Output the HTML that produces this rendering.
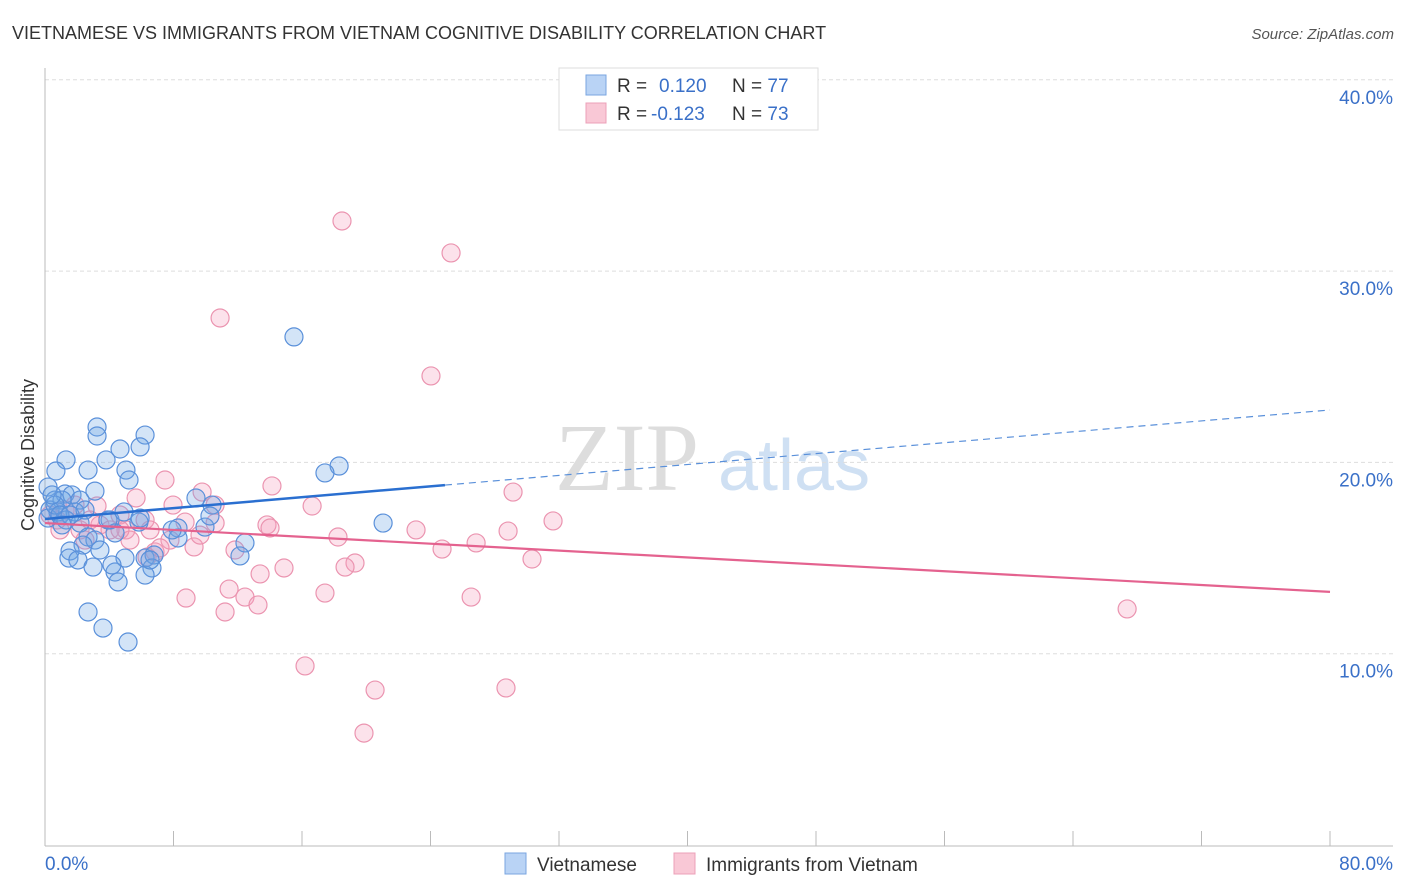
<!DOCTYPE html>
<html><head><meta charset="utf-8"><style>
body{margin:0;background:#fff;font-family:"Liberation Sans",sans-serif;}
svg{display:block}
</style></head><body>
<svg id="chart" width="1406" height="892">
<text x="12" y="39" font-size="18" fill="#333">VIETNAMESE VS IMMIGRANTS FROM VIETNAM COGNITIVE DISABILITY CORRELATION CHART</text>
<text x="1394" y="39" font-size="15" fill="#555" font-style="italic" text-anchor="end">Source: ZipAtlas.com</text>
<g>
<text x="555" y="490" font-size="96" fill="#ddd" font-family="Liberation Serif,serif">ZIP</text>
<text x="718" y="490" font-size="72" fill="#cfe0f3">atlas</text>
</g>
<g id="grid"></g>
<g id="axes"></g>
<text transform="translate(34,455) rotate(-90)" font-size="18" fill="#333" text-anchor="middle">Cognitive Disability</text>
<g id="pts-pink"></g>
<g id="pts-blue"></g>
<g id="trends"></g>
<g>
<rect x="559" y="68" width="259" height="62" fill="#fff" stroke="#ddd"/>
<rect x="586" y="75" width="20" height="20" fill="#b9d3f5" stroke="#7aa6e0"/>
<rect x="586" y="103" width="20" height="20" fill="#f9c8d6" stroke="#eca0b8"/>
<text x="617" y="92" font-size="19" fill="#333">R = <tspan fill="#3a70c8" x="659">0.120</tspan><tspan x="732" fill="#333">N = </tspan><tspan fill="#3a70c8">77</tspan></text>
<text x="617" y="120" font-size="19" fill="#333">R = <tspan fill="#3a70c8" x="651">-0.123</tspan><tspan x="732" fill="#333">N = </tspan><tspan fill="#3a70c8">73</tspan></text>
</g>
<g>
<rect x="505" y="853" width="21" height="21" fill="#b9d3f5" stroke="#7aa6e0"/>
<text x="537" y="871" font-size="19" fill="#333">Vietnamese</text>
<rect x="674" y="853" width="21" height="21" fill="#f9c8d6" stroke="#eca0b8"/>
<text x="706" y="871" font-size="19" fill="#333">Immigrants from Vietnam</text>
</g>
</svg>
<script>
const yTicks=[10,20,30,40];
const yTickLabels=["10.0%","20.0%","30.0%","40.0%"];
const xTicks=[0,8,16,24,32,40,48,56,64,72,80];
const blueX=[3.24,3.24,6.23,5.92,4.67,1.31,3.80,0.68,2.68,5.04,5.23,18.31,17.43,15.50,0.19,3.11,1.25,1.68,0.62,1.06,2.18,0.31,0.81,1.87,0.19,1.31,2.18,4.05,4.92,5.85,8.28,9.96,10.40,9.40,21.05,2.68,3.11,4.36,2.37,3.42,1.56,1.49,4.98,2.05,6.23,2.99,6.79,6.66,4.36,4.55,6.23,12.45,12.14,2.68,3.61,5.17,8.28,7.91,0.62,0.44,0.93,1.56,5.92,3.92,4.17,6.54,2.49,1.06,10.27];
const blueY=[21.85,21.38,21.43,20.81,20.70,20.13,20.13,19.55,19.60,19.60,19.08,19.81,19.45,26.56,18.71,18.50,18.35,18.30,18.03,18.03,18.03,17.51,17.41,17.41,17.09,16.99,16.83,16.99,17.41,16.88,16.57,16.62,17.77,18.14,16.83,16.10,15.94,16.31,15.68,15.42,15.37,15.00,15.00,14.90,15.00,14.53,15.16,14.48,14.27,13.75,14.11,15.79,15.11,12.18,11.34,10.61,16.05,16.47,17.77,18.30,17.25,17.25,17.09,16.99,14.64,14.90,17.51,16.73,17.20];
const pinkX=[18.49,25.28,10.90,24.03,7.47,14.13,9.78,7.97,16.63,5.67,3.24,0.75,0.93,2.18,3.42,4.67,5.04,6.23,6.54,7.78,8.72,10.59,13.82,14.01,18.24,23.10,24.72,26.84,28.83,31.63,29.14,30.32,19.30,18.68,14.88,13.39,11.46,8.78,12.45,11.21,13.26,17.43,26.53,16.19,20.55,28.70,19.86,67.37,11.83,9.28,6.85,6.35,7.16,9.65,2.80,4.05,1.25,1.87,0.31,2.49,5.29,4.67,10.59];
const pinkY=[32.62,30.95,27.55,24.52,19.08,18.77,18.45,17.77,17.72,18.14,17.72,16.99,16.47,16.47,16.73,17.25,16.47,16.99,16.47,15.94,16.88,16.83,16.73,16.57,16.10,16.47,15.47,15.79,16.41,16.94,18.45,14.95,14.74,14.53,14.48,14.17,13.38,12.91,12.96,12.18,12.55,13.17,12.96,9.36,8.10,8.21,5.85,12.34,15.42,15.58,15.32,15.05,15.53,16.20,16.99,16.47,17.51,17.77,17.25,15.94,15.94,16.47,17.77];
const blueTrend=[17.04,22.74]; // y at x=0, x=80
const blueSolidEnd=24.9;
const pinkTrend=[16.83,13.23];

const NS="http://www.w3.org/2000/svg";
const X=v=>45+v*(1285/80);
const Y=v=>845-v*19.13;
function mk(tag,attrs,parent){const e=document.createElementNS(NS,tag);for(const k in attrs)e.setAttribute(k,attrs[k]);parent.appendChild(e);return e;}
const grid=document.getElementById('grid'),axes=document.getElementById('axes');
yTicks.forEach((t,i)=>{
 const l=mk('line',{x1:45,x2:1393,y1:Y(t),y2:Y(t),stroke:'#ddd','stroke-dasharray':'4,3'},grid);
 
 
 const tx=mk('text',{x:1393,y:Y(t)+24,'font-size':19,fill:'#3a70c8','text-anchor':'end'},axes);
 tx.textContent=yTickLabels[i];
 
 
});
mk('line',{x1:45,x2:45,y1:68,y2:846,stroke:'#bbb'},axes);
mk('line',{x1:45,x2:1393,y1:846,y2:846,stroke:'#bbb'},axes);
xTicks.forEach(t=>{
 const l=mk('line',{x1:X(t),x2:X(t),y1:831,y2:846,stroke:'#bbb'},axes);
 
 
});
const x0=mk('text',{x:45,y:870,'font-size':19,fill:'#3a70c8'},axes);x0.textContent="0.0%";


const x1=mk('text',{x:1393,y:870,'font-size':19,fill:'#3a70c8','text-anchor':'end'},axes);x1.textContent="80.0%";


function pts(xs,ys,g,fill,stroke,name){xs.forEach((x,i)=>{
 const c=mk('circle',{cx:X(x),cy:Y(ys[i]),r:9,fill:fill,stroke:stroke,'stroke-width':1.2},g);
 
 
});}
pts(pinkX,pinkY,document.getElementById('pts-pink'),'rgba(244,160,188,0.3)','#eb94b0','immigrants-point');
pts(blueX,blueY,document.getElementById('pts-blue'),'rgba(110,165,230,0.3)','#5a90da','vietnamese-point');
const tr=document.getElementById('trends');
const by=x=>blueTrend[0]+(blueTrend[1]-blueTrend[0])*x/80;
let a=mk('line',{x1:X(0),y1:Y(by(0)),x2:X(blueSolidEnd),y2:Y(by(blueSolidEnd)),stroke:'#2a6fd0','stroke-width':2.5},tr);


a=mk('line',{x1:X(blueSolidEnd),y1:Y(by(blueSolidEnd)),x2:X(80),y2:Y(by(80)),stroke:'#5a90da','stroke-width':1.2,'stroke-dasharray':'7,5'},tr);


a=mk('line',{x1:X(0),y1:Y(pinkTrend[0]),x2:X(80),y2:Y(pinkTrend[1]),stroke:'#e4628f','stroke-width':2.2},tr);


</script>
</body></html>
